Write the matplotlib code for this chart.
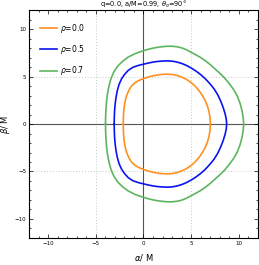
'''
shadow contours for q=0, a/M=0.99, inclination 90 deg
'''
import matplotlib
matplotlib.use('Agg')
import matplotlib.pyplot as plt
from matplotlib.ticker import MultipleLocator
import numpy as np

# upper half of each contour (alpha, beta); lower half is the mirror
alpha_rho00 = [-2.12, -2.11, -2.08, -2.02, -1.92, -1.78, -1.54, -1.25, -0.90, -0.45, 0.00, 0.50, 1.00, 1.50,
               2.00, 2.50, 3.00, 3.50, 4.00, 4.50, 5.00, 5.40, 5.80, 6.15, 6.45, 6.70, 6.87, 6.97, 7.02]
beta_rho00 = [0.00, 0.60, 1.20, 1.83, 2.40, 2.95, 3.55, 4.00, 4.35, 4.60, 4.78, 4.95, 5.08, 5.17,
              5.23, 5.25, 5.22, 5.12, 4.95, 4.70, 4.36, 4.00, 3.55, 3.05, 2.50, 1.90, 1.30, 0.70, 0.00]

alpha_rho05 = [-3.07, -3.06, -3.03, -2.97, -2.88, -2.75, -2.55, -2.30, -2.00, -1.60, -1.10, -0.50, 0.00,
               0.50, 1.00, 1.50, 2.00, 2.50, 3.00, 3.50, 4.00, 4.50, 5.00, 5.50, 6.00, 6.50, 7.00,
               7.40, 7.80, 8.10, 8.35, 8.55, 8.68, 8.72]
beta_rho05 = [0.00, 0.70, 1.40, 2.10, 2.80, 3.50, 4.20, 4.75, 5.20, 5.65, 5.98, 6.18, 6.30,
              6.42, 6.52, 6.59, 6.63, 6.65, 6.62, 6.53, 6.38, 6.17, 5.90, 5.58, 5.20, 4.75, 4.20,
              3.70, 3.05, 2.40, 1.75, 1.10, 0.50, 0.00]

alpha_rho07 = [-3.98, -3.97, -3.93, -3.87, -3.77, -3.62, -3.40, -3.10, -2.70, -2.20, -1.60, -0.80, 0.00,
               0.50, 1.00, 1.50, 2.00, 2.50, 3.00, 3.50, 4.00, 4.50, 5.00, 5.50, 6.00, 6.50, 7.00,
               7.50, 8.00, 8.50, 9.00, 9.50, 9.85, 10.15, 10.35, 10.46, 10.50]
beta_rho07 = [0.00, 0.80, 1.60, 2.40, 3.20, 4.00, 4.80, 5.50, 6.10, 6.60, 7.05, 7.45, 7.72,
              7.87, 7.99, 8.08, 8.15, 8.19, 8.19, 8.14, 8.02, 7.82, 7.55, 7.28, 7.00, 6.65, 6.25,
              5.80, 5.35, 4.85, 4.25, 3.55, 2.90, 2.10, 1.30, 0.60, 0.00]

labels = [r'$\rho$=0.0', r'$\rho$=0.5', r'$\rho$=0.7']
colors = ['#FF8F1F', '#0A14F0', '#5DB55D']

def closed(a, b):
    a = np.array(a); b = np.array(b)
    return np.concatenate([a, a[::-1]]), np.concatenate([b, -b[::-1]])

fig = plt.figure(figsize=(2.59, 2.65), dpi=100)
ax = fig.add_axes([0.112, 0.102, 0.884, 0.86])

ax.axhline(0, color='#555555', lw=0.8, zorder=1)
ax.axvline(0, color='#555555', lw=0.8, zorder=1)
for g in [-5, 5]:
    ax.axhline(g, color='#C8C8C8', lw=0.7, ls=(0, (1, 2)), zorder=0)
    ax.axvline(g, color='#C8C8C8', lw=0.7, ls=(0, (1, 2)), zorder=0)

data = [(alpha_rho00, beta_rho00), (alpha_rho05, beta_rho05), (alpha_rho07, beta_rho07)]
for (a, b), lab, c in zip(data, labels, colors):
    x, y = closed(a, b)
    ax.plot(x, y, color=c, lw=1.2, label=lab, zorder=3, solid_joinstyle='round')

ax.set_xlim(-12, 12)
ax.set_ylim(-12, 12)
ax.xaxis.set_major_locator(MultipleLocator(5))
ax.yaxis.set_major_locator(MultipleLocator(5))
ax.xaxis.set_minor_locator(MultipleLocator(1))
ax.yaxis.set_minor_locator(MultipleLocator(1))
ax.tick_params(which='both', direction='in', top=True, right=True, labelsize=4, pad=2, width=0.5)
ax.tick_params(which='major', length=3)
ax.tick_params(which='minor', length=1.5)
ax.set_xticks([-10, -5, 0, 5, 10])
ax.set_yticks([-10, -5, 0, 5, 10])
for s in ax.spines.values():
    s.set_linewidth(0.8)

ax.set_xlabel(r'$\alpha$/ M', fontsize=6, labelpad=4.5)
ax.set_ylabel(r'$\beta$/ M', fontsize=6, labelpad=2)
ax.set_title(r'q=0.0, a/M=0.99, $\theta_o$=90$\degree$', fontsize=4.8, pad=2.5)

ax.legend(loc='upper left', frameon=False, fontsize=5.5, labelspacing=1.1,
          handlelength=2.1, handletextpad=0.5, bbox_to_anchor=(0.02, 0.98))

fig.savefig('out.png', dpi=100)
